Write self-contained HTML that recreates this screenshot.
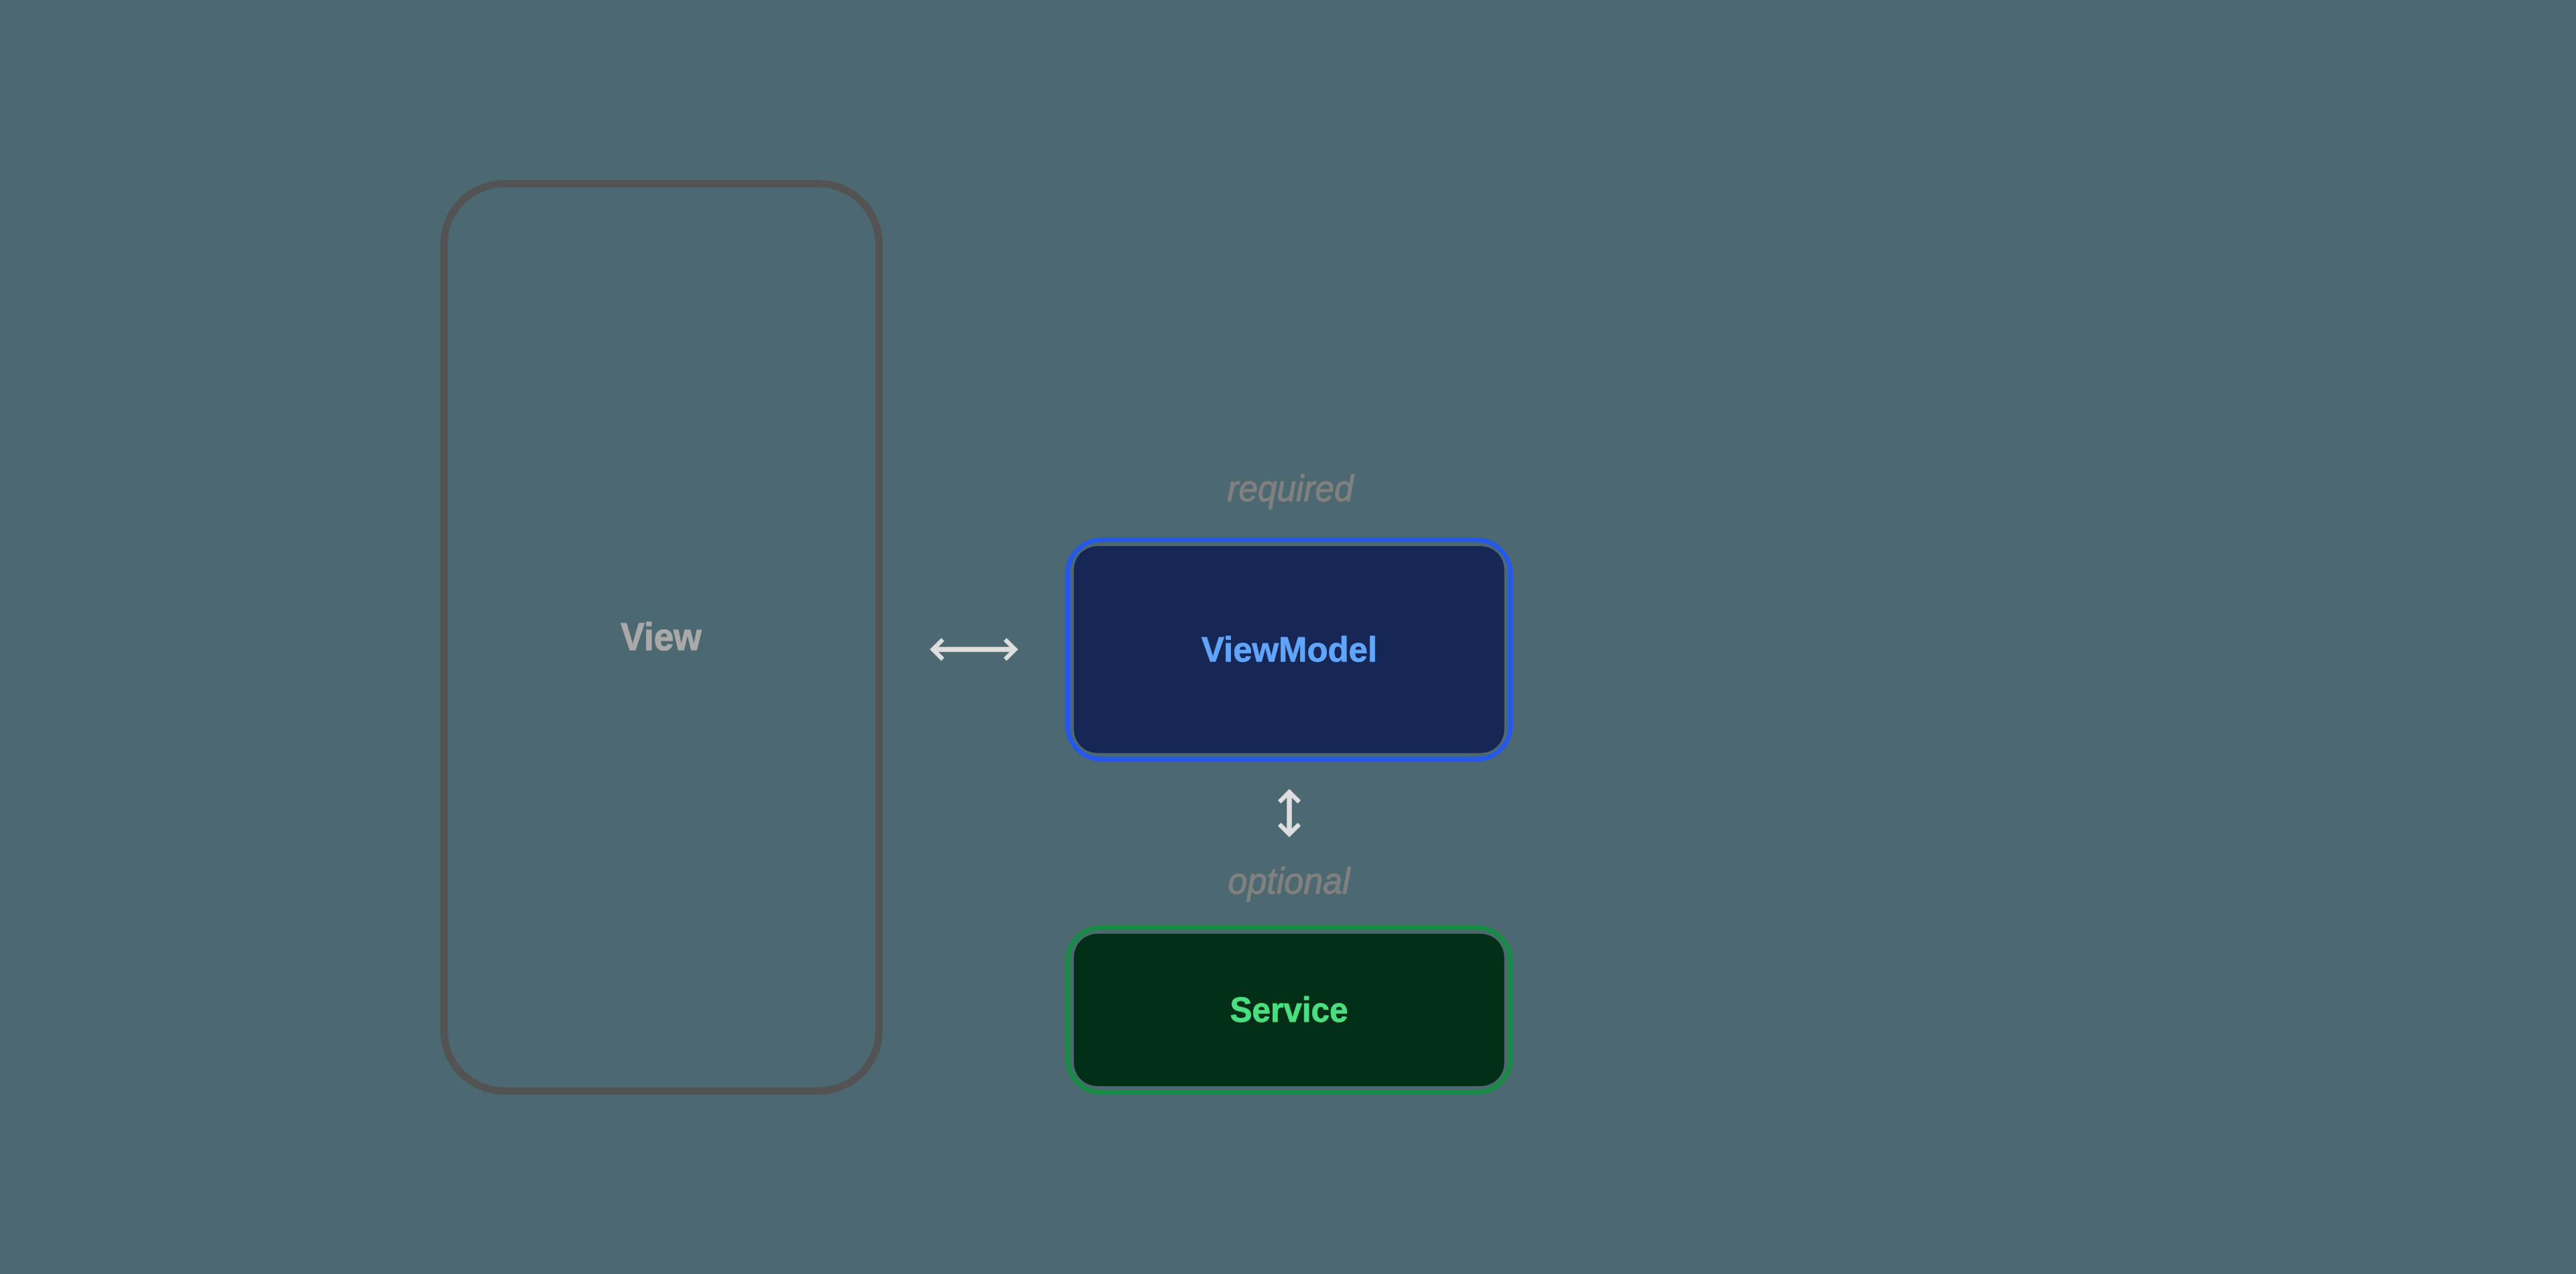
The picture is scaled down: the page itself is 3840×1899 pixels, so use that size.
<!DOCTYPE html>
<html lang="en">
<head>
<meta charset="utf-8">
<title>View / ViewModel / Service</title>
<style>
html,body{margin:0;padding:0;background:#4c6871;}
body{width:3840px;height:1899px;overflow:hidden;font-family:"Liberation Sans",sans-serif;}
svg{display:block;position:absolute;left:0;top:0;}
text{font-family:"Liberation Sans",sans-serif;}
</style>
</head>
<body>
<svg width="3840" height="1899" viewBox="0 0 3840 1899">
<defs><filter id="soft" x="0" y="0" width="3840" height="1899" filterUnits="userSpaceOnUse"><feGaussianBlur stdDeviation="0.55"/></filter></defs>
<rect x="0" y="0" width="3840" height="1899" fill="#4c6871"/>
<g filter="url(#soft)">
<rect x="661.80" y="273.70" width="648.60" height="1352.60" rx="90.00" ry="90.00" fill="none" stroke="#535353" stroke-width="11"/>
<rect x="1600.80" y="814.10" width="641.60" height="308.30" rx="35.00" ry="35.00" fill="#172554"/><rect x="1591.50" y="804.80" width="660.20" height="326.90" rx="50.50" ry="50.50" fill="none" stroke="#2558ea" stroke-width="7"/>
<rect x="1600.80" y="1391.80" width="641.60" height="227.20" rx="35.00" ry="35.00" fill="#052e16"/><rect x="1591.50" y="1382.50" width="660.20" height="245.80" rx="50.50" ry="50.50" fill="none" stroke="#198c45" stroke-width="7"/>
<path d="M1391.60,968.00L1512.10,968.00" fill="none" stroke="#dedede" stroke-width="7.5" stroke-linecap="butt"/><path d="M1405.40,953.20L1390.60,968.00L1405.40,982.80M1498.30,953.20L1513.10,968.00L1498.30,982.80" fill="none" stroke="#dedede" stroke-width="6.5" stroke-linejoin="miter" stroke-miterlimit="10" stroke-linecap="butt"/>
<path d="M1922.00,1181.60L1922.00,1242.40" fill="none" stroke="#dedede" stroke-width="7.5" stroke-linecap="butt"/><path d="M1907.20,1195.40L1922.00,1180.60L1936.80,1195.40M1907.20,1228.60L1922.00,1243.40L1936.80,1228.60" fill="none" stroke="#dedede" stroke-width="6.5" stroke-linejoin="miter" stroke-miterlimit="10" stroke-linecap="butt"/>
<text id="t_view" x="925.3" y="969.0" font-size="58" font-weight="700" font-style="normal" fill="#a9a9a9" stroke="#a9a9a9" stroke-width="1.2" stroke-linejoin="round" textLength="120.5" lengthAdjust="spacingAndGlyphs">View</text>
<text id="t_vm" x="1791.0" y="986.0" font-size="52" font-weight="700" font-style="normal" fill="#60a5fa" stroke="#60a5fa" stroke-width="0.8" stroke-linejoin="round" textLength="262.0" lengthAdjust="spacingAndGlyphs">ViewModel</text>
<text id="t_sv" x="1833.5" y="1523.0" font-size="52" font-weight="700" font-style="normal" fill="#4ade80" stroke="#4ade80" stroke-width="0.8" stroke-linejoin="round" textLength="176.0" lengthAdjust="spacingAndGlyphs">Service</text>
<text id="t_req" x="1829.5" y="747.0" font-size="56" font-weight="400" font-style="italic" fill="#808080" stroke="#808080" stroke-width="1.2" stroke-linejoin="round" textLength="188.0" lengthAdjust="spacingAndGlyphs">required</text>
<text id="t_opt" x="1830.5" y="1332.0" font-size="56" font-weight="400" font-style="italic" fill="#808080" stroke="#808080" stroke-width="1.2" stroke-linejoin="round" textLength="182.0" lengthAdjust="spacingAndGlyphs">optional</text>
</g>
</svg>
</body>
</html>
